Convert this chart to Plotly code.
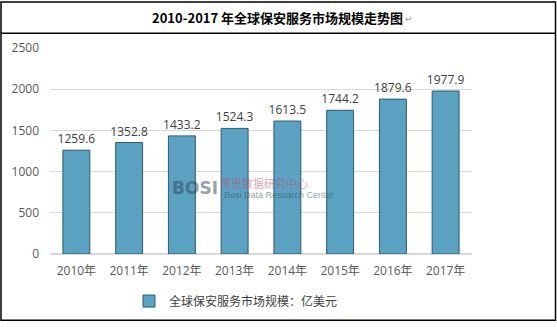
import plotly.graph_objects as go

years = ["2010年", "2011年", "2012年", "2013年", "2014年", "2015年", "2016年", "2017年"]
values = [1259.6, 1352.8, 1433.2, 1524.3, 1613.5, 1744.2, 1879.6, 1977.9]
series_name = "全球保安服务市场规模：亿美元"
title_text = "2010-2017 年全球保安服务市场规模走势图"

W, H = 557, 327
L, R, T, B = 50, 472, 48, 258

def px(x):
    return (x - L) / (R - L)

def py(y):
    return (B - y) / (B - T)

fig = go.Figure()
fig.add_trace(go.Bar(
    x=years, y=values, name=series_name,
    marker=dict(color="#5ba2c2", line=dict(color="#2e5a70", width=1)),
    text=[f"{v:.1f}" for v in values], textposition="outside",
    constraintext="none",
    textfont=dict(family="Open Sans, Noto Sans CJK SC", size=12, color="#404040"),
    cliponaxis=False,
))

fig.update_layout(
    width=W, height=H,
    margin=dict(l=L, r=W - R, t=T, b=H - B),
    paper_bgcolor="white", plot_bgcolor="white",
    bargap=0.49,
    showlegend=True,
    legend=dict(orientation="h", x=px(129), xanchor="left", y=py(306), yanchor="middle",
                font=dict(family="Noto Sans CJK SC", size=12, color="#404040"),
                itemwidth=30),
    font=dict(family="Noto Sans CJK SC", color="#595959"),
    xaxis=dict(showline=True, linecolor="#d9d9d9", ticks="", showgrid=False,
               ticklabelstandoff=6,
               tickfont=dict(family="Open Sans, Noto Sans CJK SC", size=12, color="#595959")),
    yaxis=dict(range=[0, 2500], dtick=500, showgrid=True, gridcolor="#d9d9d9",
               zeroline=True, zerolinecolor="#d9d9d9", ticks="", ticklabelstandoff=10,
               tickfont=dict(family="Open Sans", size=12, color="#595959")),
    shapes=[
        dict(type="rect", xref="paper", yref="paper", x0=px(1), x1=px(555.5),
             y0=py(325.5), y1=py(1), line=dict(color="#000000", width=1.5)),
        dict(type="line", xref="paper", yref="paper", x0=px(1), x1=px(555.5),
             y0=py(33), y1=py(33), line=dict(color="#000000", width=1.5)),
    ],
    annotations=[
        dict(text="<b>" + title_text + "</b>", xref="paper", yref="paper",
             x=px(277), y=py(17), xanchor="center", yanchor="middle", showarrow=False,
             font=dict(family="Noto Sans CJK SC", size=13, color="#000000")),
        dict(text="↵", xref="paper", yref="paper", x=px(403), y=py(18),
             xanchor="left", yanchor="middle", showarrow=False,
             font=dict(family="DejaVu Sans", size=9, color="#999999")),
        dict(text="<b>BOSI</b>", xref="paper", yref="paper", x=px(170), y=py(191),
             xanchor="left", yanchor="middle", showarrow=False, opacity=0.5,
             font=dict(family="DejaVu Sans", size=17, color="#334455")),
        dict(text="博思数据研究中心", xref="paper", yref="paper", x=px(218), y=py(186),
             xanchor="left", yanchor="middle", showarrow=False, opacity=0.5,
             font=dict(family="Noto Sans CJK SC", size=11, color="#c0506a")),
        dict(text="Bosi Data Research Center", xref="paper", yref="paper", x=px(222), y=py(198),
             xanchor="left", yanchor="middle", showarrow=False, opacity=0.5,
             font=dict(family="Liberation Sans Narrow, Liberation Sans", size=9, color="#334455")),
    ],
)

fig.write_html("out.html")
